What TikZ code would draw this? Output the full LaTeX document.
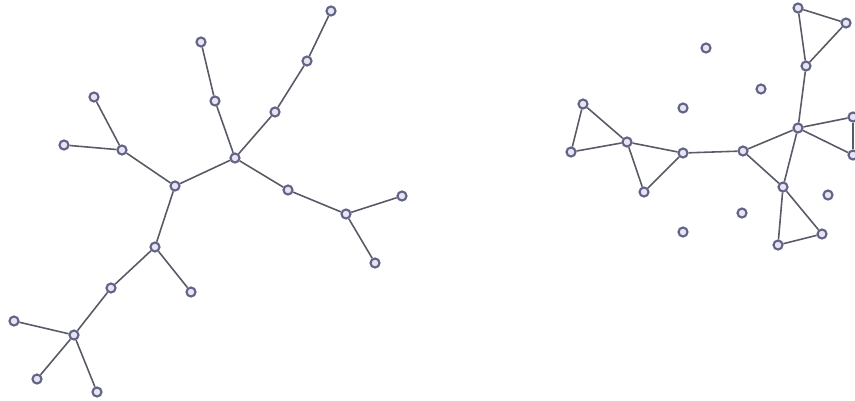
\documentclass[tikz,border=0pt]{standalone}
\definecolor{ringc}{HTML}{62628A}
\definecolor{fillc}{HTML}{E6E6EE}
\definecolor{edgec}{HTML}{5A5A66}
\tikzset{
  vtx/.style={circle, draw=ringc, fill=fillc, line width=0.6pt, minimum size=0.09cm, inner sep=0pt},
  edg/.style={draw=edgec, line width=0.45pt}
}
\begin{document}
\begin{tikzpicture}[x=0.01cm,y=-0.01cm]
\clip (0,0) rectangle (855,400);
\fill[white] (0,0) rectangle (855,400);
% left tree
\node[vtx] (A) at (331,11) {};
\node[vtx] (B) at (307,61) {};
\node[vtx] (C) at (275,112) {};
\node[vtx] (D) at (235,158) {};
\node[vtx] (E) at (201,42) {};
\node[vtx] (F) at (215,101) {};
\node[vtx] (G) at (288,190) {};
\node[vtx] (H) at (346,214) {};
\node[vtx] (I) at (402,196) {};
\node[vtx] (J) at (375,263) {};
\node[vtx] (K) at (175,186) {};
\node[vtx] (L) at (122,150) {};
\node[vtx] (M) at (94,97) {};
\node[vtx] (N) at (64,145) {};
\node[vtx] (O) at (155,247) {};
\node[vtx] (P) at (191,292) {};
\node[vtx] (Q) at (111,288) {};
\node[vtx] (R) at (74,335) {};
\node[vtx] (S) at (14,321) {};
\node[vtx] (T) at (37,379) {};
\node[vtx] (U) at (97,392) {};
% right graph
\node[vtx] (a) at (798,8) {};
\node[vtx] (b) at (846,23) {};
\node[vtx] (c) at (806,66) {};
\node[vtx] (i1) at (706,48) {};
\node[vtx] (i2) at (761,89) {};
\node[vtx] (i3) at (683,108) {};
\node[vtx] (d) at (583,104) {};
\node[vtx] (e) at (571,152) {};
\node[vtx] (f) at (627,142) {};
\node[vtx] (g) at (683,153) {};
\node[vtx] (h) at (644,192) {};
\node[vtx] (i) at (743,151) {};
\node[vtx] (j) at (798,128) {};
\node[vtx] (k) at (853,117) {};
\node[vtx] (l) at (853,155) {};
\node[vtx] (m) at (783,187) {};
\node[vtx] (n) at (822,234) {};
\node[vtx] (o) at (778,245) {};
\node[vtx] (i4) at (828,195) {};
\node[vtx] (i5) at (742,213) {};
\node[vtx] (i6) at (683,232) {};
\foreach \u/\v in {A/B,B/C,C/D,E/F,F/D,D/G,G/H,H/I,H/J,D/K,K/L,L/M,L/N,K/O,O/P,O/Q,Q/R,R/S,R/T,R/U,
  a/b,b/c,a/c,c/j,d/e,d/f,e/f,f/h,h/g,f/g,g/i,i/j,i/m,j/m,m/n,m/o,n/o,j/k,j/l,k/l}
  \draw[edg] (\u) -- (\v);
\end{tikzpicture}
\end{document}
